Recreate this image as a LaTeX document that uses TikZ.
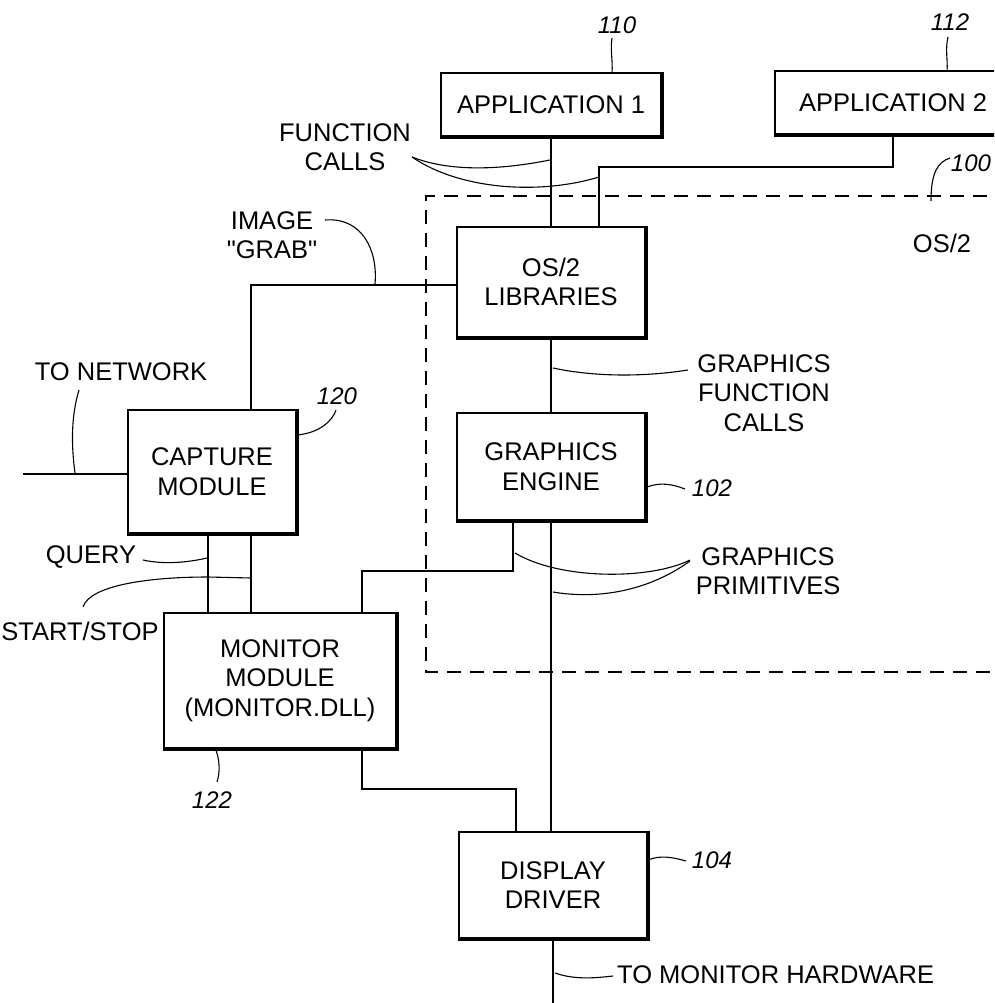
\documentclass[tikz,border=0pt]{standalone}
\usepackage{fontspec}
\newfontfamily\arialf{Liberation Sans}
\newcommand{\lblfont}{\arialf\fontsize{25.5}{29.5}\selectfont}
\newcommand{\numfont}{\arialf\fontsize{24}{28}\selectfont\itshape}
\begin{document}
\begin{tikzpicture}[x=1pt,y=-1pt,
  box/.style={draw, line width=1.6pt, inner sep=0pt, align=center, font=\lblfont},
  wire/.style={line width=2.4pt},
  leader/.style={line width=1.1pt},
  lab/.style={inner sep=0pt, align=center, font=\lblfont},
  num/.style={inner sep=0pt, font=\numfont},
  boxedge/.style={line width=2pt},
  osline/.style={line width=1.4pt, dash pattern=on 14pt off 9pt}]
\clip (0,0) rectangle (994,1003);
\fill[white] (0,0) rectangle (994,1003);

% OS/2 region
\draw[osline] (1010,196) -- (426,196) -- (426,672) -- (1010,672);

% boxes
\node[box, minimum width=220pt, minimum height=63pt] (app1) at (551,104.5) {APPLICATION 1};
\node[box, minimum width=236pt, minimum height=63pt] (app2) at (893,102.5) {APPLICATION 2};
\node[box, minimum width=188pt, minimum height=110pt] (libs) at (551,282) {OS/2\\LIBRARIES};
\node[box, minimum width=188pt, minimum height=107pt] (ge) at (551,466.5) {GRAPHICS\\ENGINE};
\node[box, minimum width=188pt, minimum height=106pt] (dd) at (553,885) {DISPLAY\\DRIVER};
\node[box, minimum width=168pt, minimum height=123pt] (cap) at (212,471.5) {CAPTURE\\MODULE};
\node[box, minimum width=232pt, minimum height=135pt] (mon) at (280,680.5) {MONITOR\\MODULE\\(MONITOR.DLL)};
\foreach \n in {app1,app2,libs,ge,dd,cap,mon}
  \draw[boxedge] ([xshift=1pt]\n.north east) -- ([shift={(1pt,-1pt)}]\n.south east) -- ([yshift=-1pt]\n.south west);

% labels
\node[lab] (fc) at (345,147) {FUNCTION\\CALLS};
\node[lab] (ig) at (272,235) {IMAGE\\"GRAB"};
\node[lab] (tn) at (121,372) {TO NETWORK};
\node[lab] (q) at (91,557) {QUERY};
\node[lab] (ss) at (80,631) {START/STOP};
\node[lab] (gfc) at (764,393) {GRAPHICS\\FUNCTION\\CALLS};
\node[lab] (gp) at (768,571) {GRAPHICS\\PRIMITIVES};
\node[lab, anchor=west] (tmh) at (617,975) {TO MONITOR HARDWARE};
\node[lab] (os2) at (942,243) {OS/2};
\node[num] (n110) at (617,25) {110};
\node[num] (n112) at (950,22) {112};
\node[num] (n100) at (971,163) {100};
\node[num] (n102) at (712,488) {102};
\node[num] (n104) at (712,860) {104};
\node[num] (n120) at (337,396) {120};
\node[num] (n122) at (212,800) {122};

% coordinates for free ends
\coordinate (netend) at (23,474);
\coordinate (hwend) at (553,1010);

% wires
\draw[wire] (app1.south) -- (libs.north);
\draw[wire] (app2.south) -- ++(0,32) -| ([xshift=48pt]libs.north);
\draw[wire] (libs.south) -- (ge.north);
\draw[wire] ([yshift=-3pt]libs.west) -| ([xshift=39pt]cap.north);
\draw[wire] ([yshift=-2.5pt]cap.west) -- (netend);
\draw[wire] ([xshift=-4pt]cap.south) -- ([xshift=-4pt]cap.south |- mon.north);
\draw[wire] ([xshift=39pt]cap.south) -- ([xshift=39pt]cap.south |- mon.north);
\draw[wire] ([xshift=-38pt]ge.south) -- ++(0,50) -| ([xshift=82pt]mon.north);
\draw[wire] (ge.south) -- (ge.south |- dd.north);
\draw[wire] ([xshift=82pt]mon.south) -- ++(0,40) -| ([xshift=-37pt]dd.north);
\draw[wire] (dd.south) -- (hwend);

% leaders
\draw[leader] (612,38) .. controls (610,50) and (613,60) .. (612,73);
\draw[leader] (948,37) .. controls (945,50) and (948,60) .. (947,71);
\draw[leader] (950,158) .. controls (938,162) and (931,172) .. (931,201);
\draw[leader] (412,157) .. controls (450,172) and (500,170) .. (550,160);
\draw[leader] (412,157) .. controls (460,190) and (540,195) .. (599,177);
\draw[leader] (325,220) .. controls (362,217) and (378,250) .. (375,284);
\draw[leader] (553,368) .. controls (600,378) and (650,376) .. (688,370);
\draw[leader] (647,487) .. controls (660,482) and (672,484) .. (685,489);
\draw[leader] (515,553) .. controls (560,580) and (650,580) .. (690,560);
\draw[leader] (553,592) .. controls (600,600) and (650,590) .. (690,561);
\draw[leader] (648,860) .. controls (660,855) and (672,857) .. (686,861);
\draw[leader] (555,973) .. controls (575,980) and (595,978) .. (613,976);
\draw[leader] (297,435) .. controls (320,433) and (333,420) .. (336,410);
\draw[leader] (79,390) .. controls (70,420) and (72,450) .. (75,473);
\draw[leader] (143,560) .. controls (165,565) and (190,562) .. (207,558);
\draw[leader] (83,607) .. controls (90,585) and (150,577) .. (208,577) -- (251,578);
\draw[leader] (216,750) .. controls (220,762) and (220,772) .. (217,782);
\end{tikzpicture}
\end{document}
